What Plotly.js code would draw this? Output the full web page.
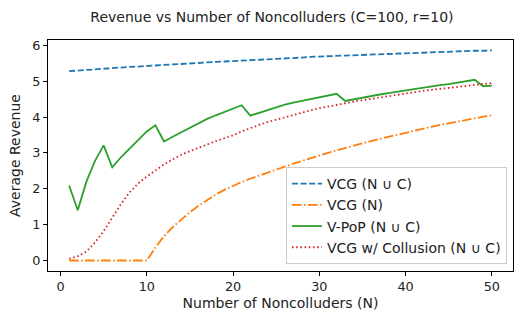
<!DOCTYPE html>
<html>
<head>
<meta charset="utf-8">
<script src="https://cdn.plot.ly/plotly-3.0.1.min.js"></script>
<style>
  html, body { margin: 0; padding: 0; background: #fff; }
  #graph_container { width: 523px; height: 324px; }
</style>
</head>
<body>
<div id="graph_container"></div>
<script>
var n_values = [];
for (var i = 1; i <= 50; i++) n_values.push(i);

var vcg_all = [5.28,5.30,5.31,5.33,5.35,5.36,5.38,5.40,5.41,5.43,
               5.44,5.46,5.47,5.48,5.50,5.51,5.52,5.54,5.55,5.56,
               5.57,5.59,5.60,5.61,5.63,5.64,5.65,5.66,5.68,5.69,
               5.70,5.71,5.72,5.73,5.74,5.75,5.76,5.77,5.78,5.79,
               5.80,5.80,5.81,5.82,5.83,5.83,5.84,5.85,5.85,5.86];

var vcg_n = [0,0,0,0,0,0,0,0,0,0,
             0.36,0.68,0.93,1.15,1.35,1.53,1.69,1.84,1.97,2.09,
             2.19,2.28,2.37,2.46,2.54,2.62,2.70,2.78,2.86,2.93,
             3.00,3.07,3.14,3.20,3.27,3.33,3.39,3.45,3.51,3.56,
             3.62,3.67,3.73,3.78,3.83,3.88,3.92,3.97,4.01,4.05];

var vpop_all = [2.09,1.40,2.20,2.78,3.21,2.60,2.88,3.13,3.38,3.60,
                3.77,3.32,3.45,3.58,3.71,3.84,3.95,4.05,4.14,4.24,
                4.33,4.04,4.12,4.20,4.28,4.35,4.40,4.45,4.50,4.55,
                4.60,4.65,4.45,4.50,4.55,4.59,4.63,4.67,4.71,4.75,
                4.79,4.83,4.86,4.89,4.92,4.96,5.00,5.04,4.86,4.88];

var vcg_collusion = [0.05,0.12,0.25,0.50,0.82,1.20,1.57,1.90,2.15,2.34,
                     2.51,2.68,2.82,2.95,3.05,3.15,3.24,3.33,3.41,3.49,
                     3.60,3.70,3.78,3.86,3.93,4.00,4.07,4.13,4.19,4.25,
                     4.30,4.35,4.39,4.43,4.47,4.51,4.55,4.59,4.62,4.66,
                     4.69,4.73,4.76,4.79,4.82,4.85,4.88,4.91,4.93,4.95];

var traces = [
    {x: n_values, y: vcg_all, type: 'scatter', mode: 'lines', name: 'VCG (N \u222a C)',
     line: {color: '#1f77b4', width: 1.8, dash: '6px,2.6px'}},
    {x: n_values, y: vcg_n, type: 'scatter', mode: 'lines', name: 'VCG (N)',
     line: {color: '#ff7f0e', width: 1.8, dash: '9.6px,2.4px,1.6px,2.4px'}},
    {x: n_values, y: vpop_all, type: 'scatter', mode: 'lines', name: 'V-PoP (N \u222a C)',
     line: {color: '#2ca02c', width: 1.8}},
    {x: n_values, y: vcg_collusion, type: 'scatter', mode: 'lines', name: 'VCG w/ Collusion (N \u222a C)',
     line: {color: '#d62728', width: 1.8, dash: '1.6px,2.6px'}}
];

var font = 'DejaVu Sans, sans-serif';

var layout = {
    width: 523,
    height: 324,
    margin: {l: 48, r: 10, t: 40, b: 53},
    paper_bgcolor: '#fff',
    plot_bgcolor: '#fff',
    font: {family: font, size: 13, color: '#222'},
    title: {text: 'Revenue vs Number of Noncolluders (C=100, r=10)', font: {size: 14, color: '#222'},
            x: 0.52, xanchor: 'center', y: 0.947, yanchor: 'middle'},
    xaxis: {
        title: {text: 'Number of Noncolluders (N)', font: {size: 14}, standoff: 4},
        range: [-1.45, 52.45], tickvals: [0,10,20,30,40,50],
        ticks: 'outside', ticklen: 4, tickcolor: '#000', tickwidth: 1,
        showline: true, linecolor: '#000', linewidth: 1, mirror: true,
        showgrid: false, zeroline: false, tickfont: {size: 12.8}
    },
    yaxis: {
        title: {text: 'Average Revenue', font: {size: 14}, standoff: 8},
        range: [-0.293, 6.15], tickvals: [0,1,2,3,4,5,6],
        ticks: 'outside', ticklen: 4, tickcolor: '#000', tickwidth: 1,
        showline: true, linecolor: '#000', linewidth: 1, mirror: true,
        showgrid: false, zeroline: false, tickfont: {size: 12.8}
    },
    showlegend: true,
    legend: {
        x: 0.987, xanchor: 'right', y: 0.03, yanchor: 'bottom',
        bgcolor: 'rgba(255,255,255,0.8)', bordercolor: '#ccc', borderwidth: 1,
        font: {size: 14, color: '#222'}, tracegroupgap: 0
    }
};

Plotly.newPlot('graph_container', traces, layout, {displayModeBar: false, staticPlot: true});
</script>
</body>
</html>
